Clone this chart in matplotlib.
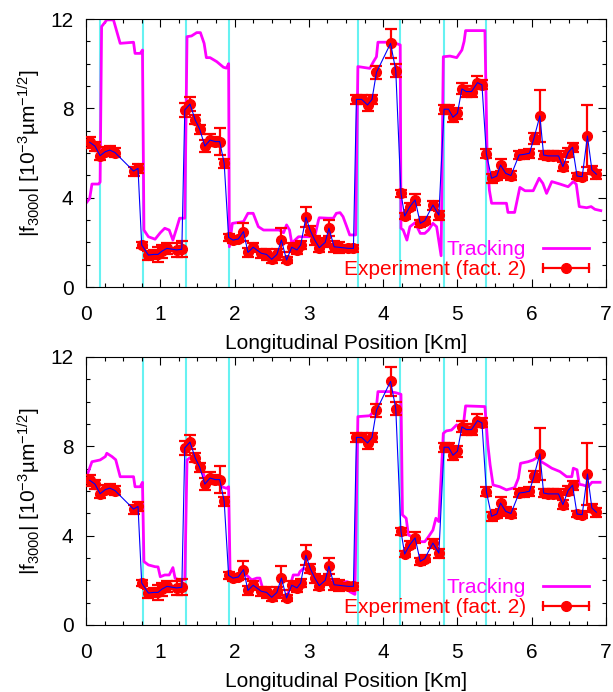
import matplotlib
matplotlib.use("Agg")
import matplotlib.pyplot as plt
from matplotlib.lines import Line2D
from matplotlib.legend_handler import HandlerLine2D, HandlerTuple
from matplotlib.ticker import MultipleLocator

plt.rcParams["font.family"] = ["Liberation Sans", "DejaVu Sans"]
plt.rcParams["mathtext.fontset"] = "custom"
plt.rcParams["mathtext.rm"] = "Liberation Sans"
plt.rcParams["mathtext.it"] = "Liberation Sans:italic"

# measured |f3000| (factor 2), same in both panels
exp_x = [0.05, 0.12, 0.19, 0.26, 0.32, 0.39, 0.64, 0.70, 0.75, 0.84, 0.91, 0.97,
         1.02, 1.09, 1.22, 1.29, 1.33, 1.40, 1.47, 1.53, 1.60, 1.67, 1.74, 1.80,
         1.86, 1.92, 1.98, 2.05, 2.12, 2.18, 2.25, 2.36, 2.43, 2.50, 2.57, 2.63,
         2.70, 2.77, 2.84, 2.89, 2.96, 3.02, 3.08, 3.14, 3.22, 3.27, 3.34, 3.40,
         3.53, 3.60, 3.64, 3.71, 3.79, 3.85, 3.91, 4.10, 4.17, 4.24, 4.29, 4.36,
         4.43, 4.50, 4.56, 4.67, 4.75, 4.82, 4.88, 4.94, 5.00, 5.06, 5.12, 5.19,
         5.27, 5.33, 5.39, 5.46, 5.53, 5.58, 5.65, 5.72, 5.83, 5.90, 5.97, 6.03,
         6.11, 6.16, 6.22, 6.29, 6.36, 6.42, 6.49, 6.55, 6.61, 6.68, 6.75, 6.81,
         6.87]
exp_y = [6.48, 6.31, 5.88, 6.06, 6.13, 6.02, 5.19, 5.31, 1.88, 1.43, 1.46, 1.46,
         1.60, 1.73, 1.66, 1.69, 7.93, 8.19, 7.48, 7.07, 6.31, 6.58, 6.51, 6.51,
         5.54, 2.22, 2.10, 2.15, 2.48, 1.55, 1.78, 1.51, 1.46, 1.24, 1.46, 2.10,
         1.21, 1.78, 1.66, 1.88, 3.12, 2.52, 2.10, 1.76, 2.00, 2.63, 1.80, 1.78,
         1.73, 1.73, 8.40, 8.40, 8.15, 8.40, 9.61, 10.91, 9.69, 4.19, 3.18, 3.60,
         3.90, 2.85, 2.97, 3.67, 3.22, 7.96, 7.96, 7.60, 7.78, 8.87, 8.75, 8.75,
         9.15, 9.05, 5.96, 4.87, 4.97, 5.46, 5.09, 4.99, 5.91, 5.94, 5.99, 6.66,
         7.66, 5.91, 5.87, 5.87, 5.87, 5.39, 6.02, 6.26, 4.97, 4.94, 6.76, 5.24,
         5.05]
exp_err = [0.25, 0.2, 0.2, 0.2, 0.2, 0.2, 0.2, 0.2, 0.15, 0.2, 0.2, 0.35,
           0.3, 0.25, 0.3, 0.35, 0.3, 0.3, 0.2, 0.2, 0.25, 0.25, 0.2, 0.6,
           0.2, 0.15, 0.15, 0.15, 0.4, 0.2, 0.2, 0.2, 0.25, 0.15, 0.25, 0.55,
           0.15, 0.2, 0.2, 0.2, 0.45, 0.2, 0.2, 0.2, 0.2, 0.35, 0.25, 0.25,
           0.15, 0.15, 0.2, 0.2, 0.25, 0.2, 0.3, 0.65, 0.3, 0.15, 0.15, 0.15,
           0.25, 0.15, 0.15, 0.2, 0.2, 0.2, 0.2, 0.2, 0.25, 0.25, 0.25, 0.25,
           0.3, 0.2, 0.2, 0.2, 0.2, 0.25, 0.2, 0.2, 0.2, 0.2, 0.2, 0.25,
           1.15, 0.2, 0.2, 0.2, 0.2, 0.2, 0.2, 0.2, 0.15, 0.15, 1.4, 0.2,
           0.2]

# tracking, top panel
trk1_x = [0.00, 0.05, 0.08, 0.17, 0.19, 0.21, 0.28, 0.37, 0.46, 0.64, 0.66, 0.73,
          0.76, 0.78, 0.84, 0.93, 1.00, 1.06, 1.12, 1.17, 1.22, 1.26, 1.33, 1.36,
          1.42, 1.49, 1.54, 1.59, 1.62, 1.67, 1.76, 1.85, 1.89, 1.92, 1.93, 1.97,
          2.12, 2.18, 2.25, 2.32, 2.39, 2.60, 2.66, 2.70, 2.74, 2.77, 2.86, 3.08,
          3.13, 3.14, 3.26, 3.33, 3.37, 3.42, 3.46, 3.51, 3.55, 3.63, 3.66, 3.72,
          3.82, 3.87, 3.91, 3.93, 4.09, 4.17, 4.23, 4.24, 4.27, 4.32, 4.36, 4.43,
          4.50, 4.56, 4.61, 4.67, 4.72, 4.78, 4.81, 4.90, 4.99, 5.06, 5.09, 5.11,
          5.37, 5.40, 5.43, 5.46, 5.66, 5.68, 5.77, 5.80, 5.84, 5.91, 6.02, 6.10,
          6.15, 6.20, 6.27, 6.38, 6.49, 6.56, 6.60, 6.64, 6.74, 6.80, 6.85, 6.93]
trk1_y = [3.75, 3.97, 4.61, 4.61, 4.70, 11.66, 11.96, 11.96, 10.91, 10.96, 10.46, 10.46,
          10.61, 2.55, 2.25, 2.14, 2.43, 2.63, 2.55, 2.10, 2.63, 3.08, 3.08, 11.21,
          11.24, 11.39, 11.39, 10.91, 10.27, 10.27, 10.09, 9.84, 9.80, 10.00, 1.80, 2.85,
          2.93, 3.30, 3.30, 2.70, 2.55, 2.55, 2.43, 2.78, 2.55, 1.96, 2.25, 2.25,
          3.00, 3.10, 3.08, 3.08, 3.30, 3.33, 3.15, 2.70, 2.33, 2.33, 9.87, 9.84,
          9.79, 10.09, 10.31, 10.96, 10.96, 10.91, 10.84, 2.63, 2.55, 2.10, 2.70, 2.88,
          2.40, 2.40, 2.55, 2.85, 2.70, 1.40, 10.31, 10.34, 10.27, 10.61, 11.00, 11.48,
          11.48, 5.84, 4.34, 3.75, 3.75, 3.34, 3.34, 3.82, 4.46, 4.31, 4.31, 4.87,
          4.64, 4.19, 4.72, 4.61, 4.49, 4.72, 4.60, 3.60, 3.55, 3.60, 3.48, 3.42]

# tracking, bottom panel
trk2_x = [0.00, 0.08, 0.19, 0.26, 0.28, 0.35, 0.40, 0.46, 0.64, 0.66, 0.73, 0.76,
          0.78, 0.84, 0.93, 0.97, 1.00, 1.06, 1.12, 1.17, 1.20, 1.26, 1.33, 1.36,
          1.42, 1.47, 1.53, 1.60, 1.67, 1.76, 1.83, 1.89, 1.92, 1.94, 2.01, 2.16,
          2.23, 2.30, 2.34, 2.39, 2.45, 2.52, 2.66, 2.72, 2.75, 2.79, 2.86, 2.88,
          2.93, 2.98, 3.01, 3.06, 3.15, 3.24, 3.30, 3.37, 3.46, 3.52, 3.55, 3.62,
          3.66, 3.74, 3.82, 3.87, 3.91, 3.93, 4.09, 4.17, 4.24, 4.26, 4.31, 4.34,
          4.40, 4.43, 4.50, 4.56, 4.61, 4.67, 4.71, 4.75, 4.81, 4.85, 4.92, 4.99,
          5.02, 5.08, 5.11, 5.37, 5.41, 5.44, 5.48, 5.57, 5.66, 5.77, 5.82, 5.85,
          5.95, 6.02, 6.09, 6.13, 6.20, 6.27, 6.38, 6.47, 6.54, 6.56, 6.61, 6.64,
          6.69, 6.76, 6.81, 6.92]
trk2_y = [6.57, 7.31, 7.39, 7.54, 7.69, 7.54, 7.40, 6.64, 6.64, 6.19, 6.19, 6.39,
          2.84, 2.69, 2.61, 2.60, 2.16, 2.24, 2.24, 2.57, 2.09, 2.02, 2.02, 7.39,
          7.54, 7.39, 7.19, 6.60, 6.64, 6.42, 6.19, 6.12, 6.19, 2.24, 2.16, 2.24,
          2.02, 2.10, 2.10, 1.49, 1.35, 1.22, 1.30, 1.40, 1.79, 2.24, 2.24, 2.39,
          2.54, 2.45, 2.61, 2.30, 2.09, 1.94, 2.00, 1.79, 1.94, 1.94, 1.49, 1.37,
          9.33, 9.35, 9.37, 9.55, 9.78, 10.45, 10.45, 10.40, 10.33, 4.93, 4.78, 4.03,
          3.95, 4.03, 3.73, 3.73, 3.95, 4.25, 4.78, 4.63, 8.58, 8.69, 8.73, 8.96,
          8.90, 8.96, 9.81, 9.78, 8.06, 7.17, 6.27, 6.19, 6.05, 6.15, 6.57, 7.24,
          7.31, 7.39, 7.54, 7.31, 7.17, 7.02, 6.87, 6.64, 6.64, 7.02, 6.95, 6.30,
          6.27, 6.19, 6.39, 6.39]

vlines_top = [0.19, 0.77, 1.35, 1.92, 3.66, 4.23, 4.82, 5.38]
vlines_bottom = [0.77, 1.35, 1.92, 3.66, 4.23, 4.82, 5.38]

FS = 15
W, H = 613, 692
fig = plt.figure(figsize=(W / 100, H / 100), dpi=100)

panels = [(19, trk1_x, trk1_y, vlines_top), (357, trk2_x, trk2_y, vlines_bottom)]
for top_px, tx, ty, vl in panels:
    ax = fig.add_axes([86 / W, 1 - (top_px + 268) / H, 520 / W, 268 / H])
    for v in vl:
        ax.axvline(v, color="#66f2f2", lw=1.5, zorder=1)
    ax.plot(tx, ty, color="magenta", lw=2.0, zorder=2)
    ax.errorbar(exp_x, exp_y, yerr=exp_err, fmt="o", color="red", ms=7,
                elinewidth=1.6, capsize=4, capthick=1.6, zorder=3)
    ax.plot(exp_x, exp_y, color="blue", lw=0.8, zorder=4)

    ax.set_xlim(0, 7)
    ax.set_ylim(0, 12)
    ax.xaxis.set_major_locator(MultipleLocator(1))
    ax.xaxis.set_minor_locator(MultipleLocator(0.25))
    ax.yaxis.set_major_locator(MultipleLocator(4))
    ax.yaxis.set_minor_locator(MultipleLocator(1))
    ax.tick_params(which="both", direction="in", top=True, right=True, width=0.8)
    ax.tick_params(which="major", length=6)
    ax.tick_params(which="minor", length=3)
    ax.tick_params(axis="x", which="major", pad=13, labelsize=FS)
    ax.tick_params(axis="y", which="major", pad=9, labelsize=FS)
    ax.set_xlabel("Longitudinal Position [Km]", fontsize=FS, labelpad=7)
    ax.set_ylabel(r"|f$_{\mathrm{3000}}$| [10$^{\mathrm{-3}}$µm$^{\mathrm{-1/2}}$]",
                  fontsize=FS, labelpad=5)

    h_trk = Line2D([], [], color="magenta", lw=2.0)
    h_bar = Line2D([], [], color="red", lw=1.6, marker="|", ms=7, mew=1.6)
    h_dot = Line2D([], [], color="red", marker="o", ls="none", ms=7)
    leg = ax.legend([h_trk, (h_bar, h_dot)], ["Tracking", "Experiment (fact. 2)"],
                    handler_map={h_dot: HandlerLine2D(numpoints=1),
                                 tuple: HandlerTuple(ndivide=1, pad=0)},
                    numpoints=2, loc="lower right", bbox_to_anchor=(1.008, -0.025),
                    frameon=False, fontsize=FS, markerfirst=False,
                    handlelength=2.8, handletextpad=0.55, labelspacing=0.05,
                    borderpad=0.2)
    for txt, c in zip(leg.get_texts(), ["magenta", "red"]):
        txt.set_color(c)

fig.savefig("out.png", dpi=100)
